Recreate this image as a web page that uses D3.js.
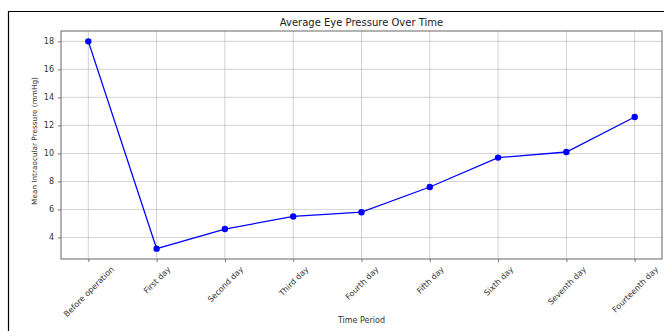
<!DOCTYPE html>
<html><head><meta charset="utf-8">
<script src="https://cdn.jsdelivr.net/npm/d3@7"></script>
<style>body{margin:0;background:#fff}svg{display:block}text{font-family:"DejaVu Sans",sans-serif}</style>
</head><body>
<svg id="c" width="664" height="331"></svg>
<script>
const categories = ["Before operation","First day","Second day","Third day","Fourth day","Fifth day","Sixth day","Seventh day","Fourteenth day"];
const pressure = [18, 3.2, 4.6, 5.5, 5.8, 7.6, 9.7, 10.1, 12.6];
const yTicks = [4, 6, 8, 10, 12, 14, 16, 18];
const title = "Average Eye Pressure Over Time";
const xTitle = "Time Period";
const yTitle = "Mean Intraocular Pressure (mmHg)";

const svg = d3.select("#c");
const W = 664, H = 331;
const m = {left: 61, right: 2, top: 31, bottom: 72};
const pw = W - m.left - m.right, ph = H - m.top - m.bottom;

// outer border (top and left only visible)
svg.append("line").attr("x1",8).attr("x2",W).attr("y1",11.5).attr("y2",11.5).attr("stroke","#000").attr("stroke-width",1.2);
svg.append("line").attr("x1",8.5).attr("x2",8.5).attr("y1",11).attr("y2",H).attr("stroke","#000").attr("stroke-width",1.2);

const x = d3.scaleLinear().domain([-0.4, categories.length - 1 + 0.4]).range([0, pw]);
const y = d3.scaleLinear().domain([2.46, 18.74]).range([ph, 0]);

const g = svg.append("g").attr("transform", `translate(${m.left},${m.top})`);

// grid
g.append("g").selectAll("line").data(categories).join("line")
  .attr("x1",(d,i)=>x(i)).attr("x2",(d,i)=>x(i)).attr("y1",0).attr("y2",ph)
  .attr("stroke","#b0b0b0").attr("stroke-width",0.8).attr("opacity",0.7);
g.append("g").selectAll("line").data(yTicks).join("line")
  .attr("x1",0).attr("x2",pw).attr("y1",d=>y(d)).attr("y2",d=>y(d))
  .attr("stroke","#b0b0b0").attr("stroke-width",0.8).attr("opacity",0.7);

// axes
const xa = g.append("g").attr("transform",`translate(0,${ph})`)
  .call(d3.axisBottom(x).tickValues(d3.range(categories.length)).tickFormat(i=>categories[i]).tickSize(3).tickPadding(3));
const fs = 8, pad = 6;
xa.selectAll("text").attr("font-size",fs).attr("fill","#333")
  .attr("text-anchor","middle").attr("y",0).attr("dy","0.35em")
  .each(function(){
    const w = this.getComputedTextLength();
    const off = pad + (w + fs) / (2*Math.SQRT2);
    d3.select(this).attr("transform",`translate(0,${off}) rotate(-45)`);
  });
const ya = g.append("g").call(d3.axisLeft(y).tickValues(yTicks).tickSize(3).tickPadding(4));
ya.selectAll("text").attr("font-size",8).attr("fill","#333");
[xa, ya].forEach(a=>{a.select(".domain").remove(); a.selectAll(".tick line").attr("stroke","#555").attr("stroke-width",0.8);});

// frame
g.append("rect").attr("x",0).attr("y",0).attr("width",pw).attr("height",ph)
  .attr("fill","none").attr("stroke","#666").attr("stroke-width",1);

// line
const line = d3.line().x((d,i)=>x(i)).y(d=>y(d));
g.append("path").datum(pressure).attr("d",line).attr("fill","none").attr("stroke","#0000ff").attr("stroke-width",1.3);
g.selectAll("circle.pt").data(pressure).join("circle").attr("class","pt")
  .attr("cx",(d,i)=>x(i)).attr("cy",d=>y(d)).attr("r",3.2).attr("fill","#0000ff");

// titles
svg.append("text").attr("x", m.left + pw/2).attr("y", 26).attr("text-anchor","middle")
  .attr("font-size",10).attr("fill","#222").text(title);
svg.append("text").attr("x", m.left + pw/2).attr("y", 323).attr("text-anchor","middle")
  .attr("font-size",8).attr("fill","#333").text(xTitle);
svg.append("text").attr("transform",`translate(37,${m.top + ph/2 - 4}) rotate(-90)`).attr("text-anchor","middle")
  .attr("font-size",7.3).attr("fill","#333").text(yTitle);
</script>
</body></html>
